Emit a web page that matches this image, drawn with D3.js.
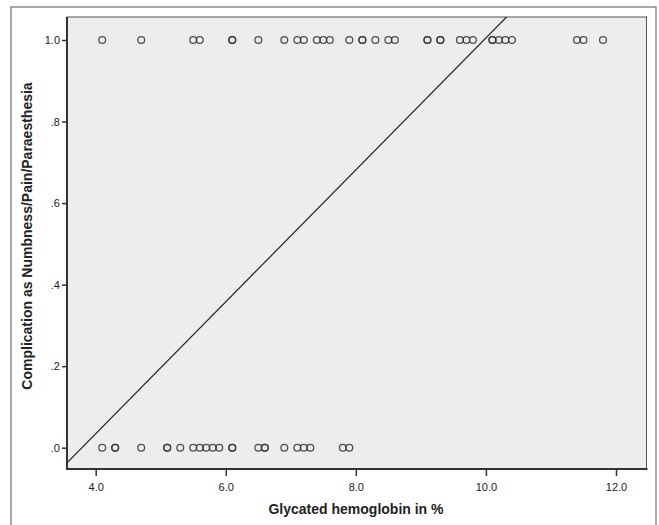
<!DOCTYPE html>
<html>
<head>
<meta charset="utf-8">
<script src="https://cdn.jsdelivr.net/npm/d3@7"></script>
<style>
  body { margin: 0; background: #fff; }
  text { font-family: "Liberation Sans", Arial, sans-serif; fill: #222; }
</style>
</head>
<body>
<main></main>
<script>
const width = 659;
const height = 525;

// HbA1c values for patients with complication = 1 (duplicates repeated)
const yesValues = [4.1, 4.7, 5.5, 5.6, 6.1, 6.1, 6.5, 6.9, 7.1, 7.2, 7.4, 7.5, 7.6,
                   7.9, 8.1, 8.1, 8.3, 8.5, 8.6, 9.1, 9.1, 9.3, 9.3, 9.6, 9.7, 9.8,
                   10.1, 10.1, 10.2, 10.3, 10.4, 11.4, 11.5, 11.8];
// HbA1c values for patients with complication = 0
const noValues = [4.1, 4.3, 4.3, 4.7, 5.1, 5.1, 5.3, 5.5, 5.6, 5.7, 5.8, 5.9,
                  6.1, 6.1, 6.5, 6.6, 6.6, 6.9, 7.1, 7.2, 7.3, 7.8, 7.9];
const xTicks = [4, 6, 8, 10, 12];
const yTicks = [0, 0.2, 0.4, 0.6, 0.8, 1.0];
// linear fit line: y = intercept + slope * x
const fitIntercept = -0.613;
const fitSlope = 0.1618;

const plot = {left: 67, right: 646.5, top: 17, bottom: 469};

const svg = d3.select("main")
              .append("svg")
              .attr("width", width)
              .attr("height", height);

// outer frame
svg.append("rect")
   .attr("x", 11).attr("y", 7)
   .attr("width", 645).attr("height", 530)
   .attr("fill", "#fff")
   .attr("stroke", "#555")
   .attr("stroke-width", 1);

const xScale = d3.scaleLinear()
                 .domain([3.559, 12.469])
                 .range([plot.left, plot.right]);
const yScale = d3.scaleLinear()
                 .domain([-0.0522, 1.0564])
                 .range([plot.bottom, plot.top]);

svg.append("defs").append("clipPath")
   .attr("id", "clip")
   .append("rect")
   .attr("x", plot.left).attr("y", plot.top)
   .attr("width", plot.right - plot.left)
   .attr("height", plot.bottom - plot.top);

svg.append("rect")
   .attr("x", plot.left).attr("y", plot.top)
   .attr("width", plot.right - plot.left)
   .attr("height", plot.bottom - plot.top)
   .attr("fill", "#ededed")
   .attr("stroke", "#555")
   .attr("stroke-width", 1);

// fit line
const x0 = xScale.domain()[0], x1 = xScale.domain()[1];
svg.append("line")
   .attr("clip-path", "url(#clip)")
   .attr("x1", xScale(x0)).attr("y1", yScale(fitIntercept + fitSlope * x0))
   .attr("x2", xScale(x1)).attr("y2", yScale(fitIntercept + fitSlope * x1))
   .attr("stroke", "#222")
   .attr("stroke-width", 1.2);

const points = yesValues.map(v => ({x: v, y: 1}))
                        .concat(noValues.map(v => ({x: v, y: 0})));

svg.selectAll("circle.pt")
   .data(points)
   .enter()
   .append("circle")
   .attr("class", "pt")
   .attr("cx", d => xScale(d.x))
   .attr("cy", d => yScale(d.y))
   .attr("r", 3.4)
   .attr("fill", "none")
   .attr("stroke", "#333")
   .attr("stroke-width", 1.3)
   .attr("stroke-opacity", 0.85);

// axes
const xAxis = svg.append("g")
   .attr("transform", `translate(0, ${plot.bottom})`)
   .call(d3.axisBottom(xScale).tickValues(xTicks).tickFormat(d3.format(".1f"))
           .tickSize(7).tickSizeOuter(0));
const yAxis = svg.append("g")
   .attr("transform", `translate(${plot.left}, 0)`)
   .call(d3.axisLeft(yScale).tickValues(yTicks)
           .tickFormat(d => d3.format(".1f")(d).replace(/^0/, ""))
           .tickSize(5).tickSizeOuter(0));

[xAxis, yAxis].forEach(a => {
    a.select(".domain").attr("stroke", "#333").attr("stroke-width", 2);
    a.selectAll(".tick line").attr("stroke", "#333").attr("stroke-width", 1.5);
    a.selectAll(".tick text")
     .attr("fill", "#1a1a1a")
     .style("font-family", "'Liberation Sans', Arial, sans-serif")
     .style("font-size", "11px");
});
xAxis.select(".domain").attr("d", `M${plot.left - 1},0H${plot.right + 1}`);
yAxis.select(".domain").attr("d", `M0,${plot.top}V${plot.bottom}`);
xAxis.selectAll(".tick text").attr("dy", "1.1em");
yAxis.selectAll(".tick text").attr("x", -7);

svg.append("text")
   .attr("x", 356)
   .attr("y", 514)
   .attr("text-anchor", "middle")
   .style("font-size", "14px")
   .style("font-weight", "bold")
   .text("Glycated hemoglobin in %");

svg.append("text")
   .attr("transform", "translate(32, 236) rotate(-90)")
   .attr("text-anchor", "middle")
   .style("font-size", "14px")
   .style("font-weight", "bold")
   .text("Complication as Numbness/Pain/Paraesthesia");
</script>
</body>
</html>
